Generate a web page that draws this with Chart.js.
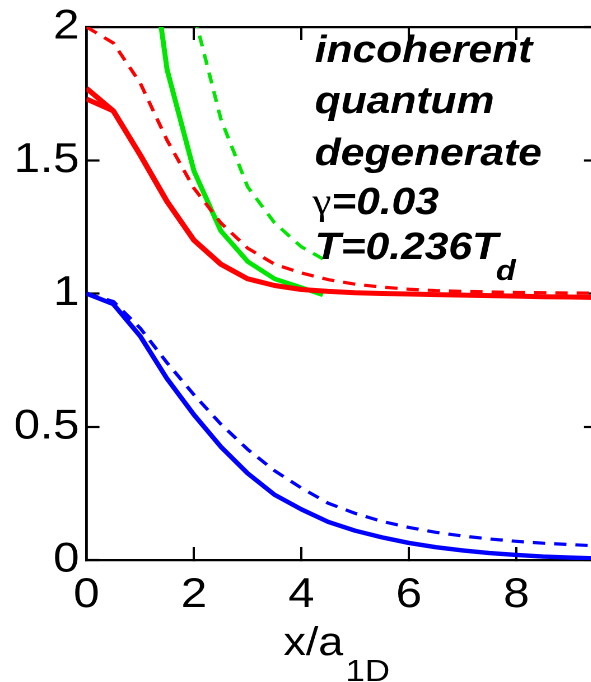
<!DOCTYPE html>
<html>
<head>
<meta charset="utf-8">
<script src="https://cdn.jsdelivr.net/npm/chart.js@4.4.1/dist/chart.umd.min.js"></script>
<style>
  html, body { margin: 0; padding: 0; overflow: hidden; background: #fff; width: 591px; height: 682px; }
  #wrap { position: absolute; left: 0; top: 0; width: 533px; height: 682px; transform: scaleX(1.12); transform-origin: 0 0; }
  canvas { display: block; }
</style>
</head>
<body>
<div id="wrap"><canvas id="c" width="533" height="682"></canvas></div>
<script>
// ---- data ----
const xGrid = [0, 0.5, 1, 1.5, 2, 2.5, 3, 3.5, 4, 4.5, 5, 5.5, 6, 6.5, 7, 7.5, 8, 8.5, 9, 9.5];
const blueSolid  = [1.0, 0.96, 0.84, 0.68, 0.545, 0.425, 0.325, 0.245, 0.19, 0.143, 0.11, 0.085, 0.064, 0.048, 0.036, 0.026, 0.019, 0.013, 0.009, 0.006];
const blueDashed = [1.0, 0.97, 0.87, 0.74, 0.62, 0.51, 0.415, 0.335, 0.27, 0.213, 0.175, 0.145, 0.122, 0.104, 0.09, 0.079, 0.07, 0.063, 0.058, 0.053];
const redSolid   = [1.77, 1.685, 1.52, 1.345, 1.2, 1.11, 1.055, 1.03, 1.015, 1.008, 1.003, 1.0, 0.998, 0.996, 0.994, 0.992, 0.99, 0.988, 0.987, 0.985];
const redSolidAltX = [0, 0.5];
const redSolidAlt  = [1.73, 1.685];
const redDashed  = [2.0, 1.94, 1.79, 1.575, 1.395, 1.265, 1.17, 1.11, 1.077, 1.052, 1.035, 1.024, 1.016, 1.011, 1.008, 1.006, 1.004, 1.003, 1.002, 1.001];
const greenSolidX = [1, 1.5, 2, 2.5, 3, 3.5, 4, 4.4];
const greenSolid  = [2.57, 1.84, 1.46, 1.235, 1.12, 1.055, 1.022, 0.995];
const greenDashedX = [1.5, 2, 2.5, 3, 3.5, 4, 4.4];
const greenDashed  = [2.6, 2.05, 1.655, 1.40, 1.265, 1.175, 1.13];

const xTicks = [0, 2, 4, 6, 8];
const xTickLabels = ['0', '2', '4', '6', '8'];
const yTicks = [0, 0.5, 1, 1.5, 2];
const yTickLabels = ['0', '0.5', '1', '1.5', '2'];
const xRange = [0, 9.5];
const yRange = [0, 2];

const annotationLines = ['incoherent', 'quantum', 'degenerate'];
const gammaText = ['\u03b3', '=0.03'];
const tempText = ['T=0.236T', 'd'];
const xTitle = ['x/a', '1D'];

// ---- helpers ----
const pts = (xs, ys) => xs.map((x, i) => ({ x: x, y: ys[i] }));
const FONT = '"Liberation Sans", Arial, Helvetica, sans-serif';
const RED = '#ff0000', GREEN = '#00e600', BLUE = '#0000ff';

function line(data, color, width, dash) {
  return {
    data: data, borderColor: color, backgroundColor: color, borderWidth: width,
    borderDash: dash || [], pointRadius: 0, pointHoverRadius: 0, tension: 0, fill: false,
    borderCapStyle: 'butt', borderJoinStyle: 'round'
  };
}

const textPlugin = {
  id: 'texts',
  afterDraw(chart) {
    const ctx = chart.ctx;
    ctx.save();
    ctx.fillStyle = '#000';
    ctx.textAlign = 'left';
    ctx.textBaseline = 'alphabetic';
    const bi = 'italic bold 38px ' + FONT;
    const left = 281;
    const baselines = [62, 113, 165];
    ctx.font = bi;
    annotationLines.forEach((t, i) => ctx.fillText(t, left, baselines[i]));
    // gamma line
    ctx.font = '38px "Liberation Serif", "DejaVu Serif", serif';
    ctx.fillText(gammaText[0], left - 2, 214);
    const gw = ctx.measureText(gammaText[0]).width;
    ctx.font = bi;
    ctx.fillText(gammaText[1], left - 2 + gw, 214);
    // temperature line
    ctx.font = bi;
    ctx.fillText(tempText[0], left, 259);
    const tw = ctx.measureText(tempText[0]).width;
    ctx.font = 'italic bold 29px ' + FONT;
    ctx.fillText(tempText[1], left + tw - 2, 280);
    // x axis title with subscript
    ctx.font = '40px ' + FONT;
    const w1 = ctx.measureText(xTitle[0]).width;
    ctx.font = '31px ' + FONT;
    const w2 = ctx.measureText(xTitle[1]).width;
    const a = chart.chartArea;
    const cx = (a.left + 540) / 2 - 8;
    const x0 = cx - (w1 + w2 + 2) / 2;
    ctx.font = '40px ' + FONT;
    ctx.fillText(xTitle[0], x0, 655);
    ctx.font = '31px ' + FONT;
    ctx.fillText(xTitle[1], x0 + w1 + 2, 681);
    ctx.restore();
  }
};

const tickFont = { family: FONT, size: 42 };
const setTicks = (vals) => (scale) => { scale.ticks = vals.map(v => ({ value: v })); };
const fitFixed = (w, h) => (s) => {
  if (w !== null) s.width = w;
  if (h !== null) s.height = h;
  s.paddingTop = 0; s.paddingBottom = 0; s.paddingLeft = 0; s.paddingRight = 0;
};

new Chart(document.getElementById('c'), {
  type: 'line',
  data: {
    datasets: [
      line(pts(xGrid, redSolid), RED, 5),
      line(pts(redSolidAltX, redSolidAlt), RED, 5),
      line(pts(xGrid, redDashed), RED, 3.2, [11, 8]),
      line(pts(greenSolidX, greenSolid), GREEN, 4.5),
      line(pts(greenDashedX, greenDashed), GREEN, 3.2, [11, 8]),
      line(pts(xGrid, blueSolid), BLUE, 4.4),
      line(pts(xGrid, blueDashed), BLUE, 3.2, [11, 8])
    ]
  },
  options: {
    responsive: false,
    devicePixelRatio: 2,
    animation: false,
    events: [],
    layout: { padding: { top: 27, left: 0, right: 0, bottom: 0 } },
    plugins: { legend: { display: false }, tooltip: { enabled: false }, title: { display: false } },
    scales: {
      x: {
        type: 'linear', position: 'bottom', min: xRange[0], max: xRange[1],
        afterBuildTicks: setTicks(xTicks),
        afterFit: fitFixed(null, 122),
        grid: { display: true, drawOnChartArea: false, drawTicks: true, tickLength: -13, tickWidth: 2, tickColor: '#000' },
        border: { display: true, color: '#000', width: 2.2 },
        ticks: { font: tickFont, color: '#000', padding: 23, maxRotation: 0, autoSkip: false,
                 callback: (v, i) => xTickLabels[i] }
      },
      x2: {
        type: 'linear', position: 'top', min: xRange[0], max: xRange[1],
        afterBuildTicks: setTicks(xTicks),
        afterFit: fitFixed(null, 0),
        grid: { display: true, drawOnChartArea: false, drawTicks: true, tickLength: -13, tickWidth: 2, tickColor: '#000' },
        border: { display: true, color: '#000', width: 2.2 },
        ticks: { display: false }
      },
      y: {
        type: 'linear', position: 'left', min: yRange[0], max: yRange[1],
        afterBuildTicks: setTicks(yTicks),
        afterFit: fitFixed(77.2, null),
        grid: { display: true, drawOnChartArea: false, drawTicks: true, tickLength: -11.6, tickWidth: 2.2, tickColor: '#000' },
        border: { display: true, color: '#000', width: 2.4 },
        ticks: { font: tickFont, color: '#000', padding: 18, autoSkip: false,
                 callback: (v, i) => yTickLabels[i] }
      },
      y2: {
        type: 'linear', position: 'right', min: yRange[0], max: yRange[1],
        afterBuildTicks: setTicks(yTicks),
        afterFit: fitFixed(0, null),
        grid: { display: true, drawOnChartArea: false, drawTicks: true, tickLength: -11.6, tickWidth: 2.2, tickColor: '#000' },
        border: { display: true, color: '#000', width: 2.4 },
        ticks: { display: false }
      }
    }
  },
  plugins: [textPlugin]
});
</script>
</body>
</html>
